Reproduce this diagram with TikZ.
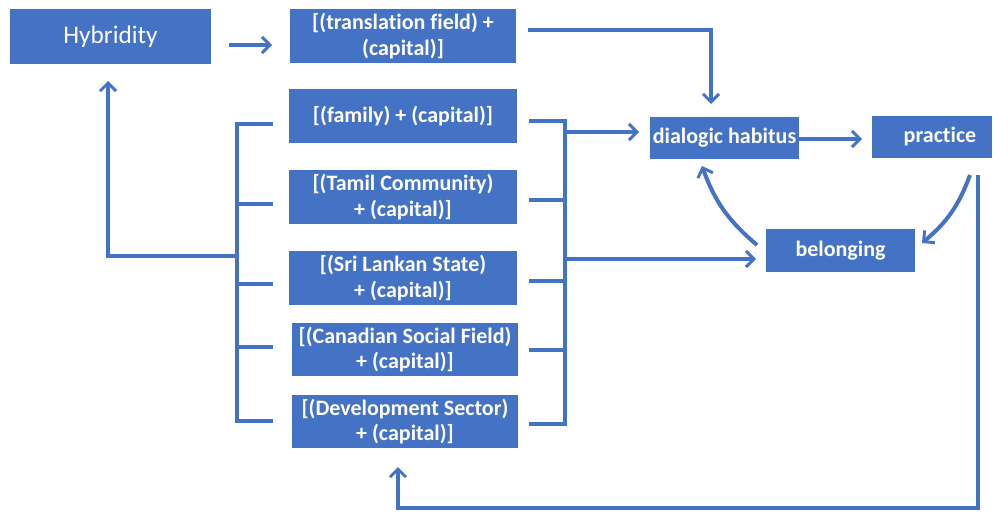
\documentclass[tikz,border=0pt]{standalone}
\usepackage{fontspec}
\setmainfont[Ligatures=NoCommon]{Carlito}
\usetikzlibrary{arrows.meta}
\definecolor{mblue}{HTML}{4472C4}
\begin{document}
\begin{tikzpicture}[x=0.75pt,y=-0.75pt,
  bx/.style={fill=mblue, text=white, inner sep=0pt, align=center,
    font=\bfseries\fontsize{16.5}{19}\selectfont},
  ln/.style={draw=mblue, line width=3pt},
  arr/.style={ln, -{Straight Barb[length=6pt,width=12pt,line width=2.2pt]}}]
\useasboundingbox (0,0) rectangle (993,514);
% boxes
\node[bx, minimum width=201*0.75pt, minimum height=55*0.75pt,
  font=\fontsize{19}{22}\selectfont] (hyb) at (110.5,36.5) {Hybridity};
\node[bx, minimum width=226*0.75pt, minimum height=54*0.75pt] (tr) at (403,36) {[(translation field) +\\(capital)]};
\node[bx, minimum width=228*0.75pt, minimum height=54*0.75pt] (fam) at (403,116) {[(family) + (capital)]};
\node[bx, minimum width=228*0.75pt, minimum height=54*0.75pt] (tam) at (403,197) {[(Tamil Community)\\+ (capital)]};
\node[bx, minimum width=228*0.75pt, minimum height=54*0.75pt] (sri) at (403,278) {[(Sri Lankan State)\\+ (capital)]};
\node[bx, minimum width=226*0.75pt, minimum height=53*0.75pt] (can) at (405,349.5) {[(Canadian Social Field)\\+ (capital)]};
\node[bx, minimum width=226*0.75pt, minimum height=53*0.75pt] (dev) at (405,421.5) {[(Development Sector)\\+ (capital)]};
\node[bx, minimum width=149*0.75pt, minimum height=42*0.75pt] (dia) at (724.5,138) {dialogic habitus};
\node[bx, minimum width=120*0.75pt, minimum height=42*0.75pt] (pra) at (932,137) {\hspace*{12pt}practice};
\node[bx, minimum width=149*0.75pt, minimum height=43*0.75pt] (bel) at (840.5,250.5) {belonging};
% coordinates for brackets
\coordinate (L1) at (237,124);
\coordinate (L5) at (237,421);
\coordinate (LH) at (237,256);
\coordinate (R1) at (565,121);
\coordinate (R5) at (565,424);
\coordinate (RD) at (565,132);
\coordinate (RB) at (565,259);
% Hybridity -> translation
\draw[arr] (229,45) -- (272,45);
% translation -> dialogic
\draw[arr] (528,30) -- (711,30) -- (711,104);
% left bracket
\draw[ln] (273,124) -- (L1) -- (L5) -- (273,421);
\draw[ln] (237,204) -- (273,204);
\draw[ln] (237,284) -- (273,284);
\draw[ln] (237,347) -- (273,347);
\draw[arr] (LH) -- (108,256) -- (108,81);
% right bracket
\draw[ln] (529,121) -- (R1) -- (R5) -- (529,424);
\draw[ln] (529,200) -- (565,200);
\draw[ln] (529,281) -- (565,281);
\draw[ln] (529,350) -- (565,350);
\draw[arr] (RD) -- (639,132);
\draw[arr] (RB) -- (756,259);
% dialogic -> practice
\draw[arr] (dia.east |- 0,139) -- (862,139);
% practice -> belonging
\draw[arr] (970,175) to[bend left=15] (922,243);
% belonging -> dialogic
\draw[arr] (757,245) to[bend left=15] (702,166);
% feedback
\draw[arr] (978,175) -- (978,508) -- (398,508) -- (398,467);
\end{tikzpicture}
\end{document}
